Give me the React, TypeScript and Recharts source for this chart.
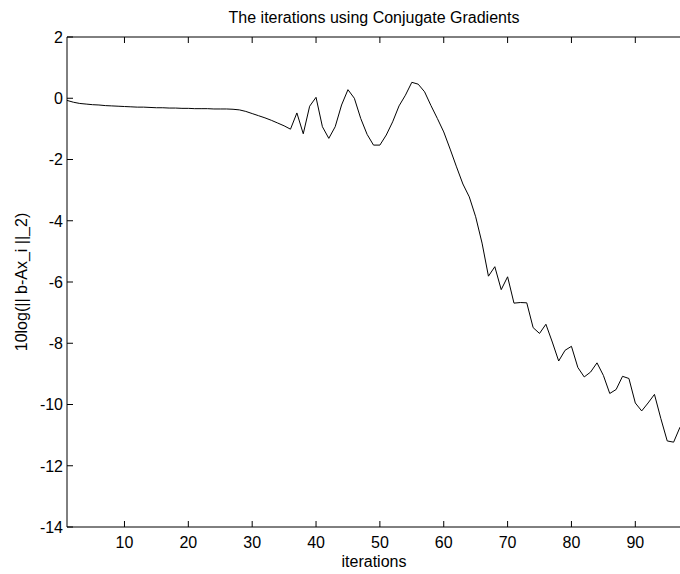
import React from "react";
import { Line, LineChart, XAxis, YAxis } from "recharts";

// iteration numbers 1..97
const iterations: number[] = Array.from({ length: 97 }, (_, i) => i + 1);

// 10log(|| b - Ax_i ||_2)
const residual: number[] = [
  -0.07, -0.13, -0.17, -0.19, -0.21, -0.22, -0.24, -0.25, -0.26, -0.27,
  -0.28, -0.29, -0.29, -0.3, -0.31, -0.31, -0.32, -0.32, -0.33, -0.33,
  -0.34, -0.34, -0.34, -0.35, -0.35, -0.35, -0.36, -0.38, -0.43, -0.5,
  -0.57, -0.64, -0.72, -0.81, -0.9, -1.01, -0.48, -1.16, -0.26, 0.03,
  -0.93, -1.31, -0.93, -0.22, 0.28, 0.0, -0.66, -1.18, -1.53, -1.53,
  -1.2, -0.77, -0.25, 0.1, 0.52, 0.46, 0.21, -0.24, -0.66, -1.1,
  -1.66, -2.24, -2.8, -3.22, -3.87, -4.73, -5.81, -5.5, -6.25, -5.83,
  -6.69, -6.67, -6.68, -7.49, -7.68, -7.38, -7.96, -8.58, -8.23, -8.1,
  -8.79, -9.1, -8.94, -8.64, -9.05, -9.64, -9.51, -9.08, -9.15, -9.95,
  -10.21, -9.95, -9.67, -10.46, -11.19, -11.23, -10.74,
];

const xTicks: number[] = [10, 20, 30, 40, 50, 60, 70, 80, 90];
const yTicks: number[] = [-14, -12, -10, -8, -6, -4, -2, 0, 2];

const title = "The iterations using Conjugate Gradients";
const xLabel = "iterations";
const yLabel = "10log(|| b-Ax_i ||_2)";

const data = iterations.map((it, i) => ({ it, value: residual[i] }));

const FONT = '"Liberation Sans", Arial, Helvetica, sans-serif';
const TICK_LEN = 6;
// plot box edges (matlab-style axes, ticks drawn inward)
const PLOT_LEFT = 67;
const PLOT_TOP = 37;
const PLOT_BOTTOM = 527;

function BottomTick(props: any) {
  const { x, payload } = props;
  return (
    <g>
      <line
        x1={x}
        x2={x}
        y1={PLOT_BOTTOM}
        y2={PLOT_BOTTOM - TICK_LEN}
        stroke="#000"
      />
      <text
        x={x}
        y={PLOT_BOTTOM + 21}
        textAnchor="middle"
        fontSize={16}
        fontFamily={FONT}
        fill="#000"
      >
        {payload.value}
      </text>
    </g>
  );
}

function TopTick(props: any) {
  const { x } = props;
  return (
    <line
      x1={x}
      x2={x}
      y1={PLOT_TOP}
      y2={PLOT_TOP + TICK_LEN}
      stroke="#000"
    />
  );
}

function LeftTick(props: any) {
  const { y, payload } = props;
  return (
    <g>
      <line
        x1={PLOT_LEFT}
        x2={PLOT_LEFT + TICK_LEN}
        y1={y}
        y2={y}
        stroke="#000"
      />
      <text
        x={PLOT_LEFT - 4}
        y={y}
        dy="0.36em"
        textAnchor="end"
        fontSize={16}
        fontFamily={FONT}
        fill="#000"
      >
        {payload.value}
      </text>
    </g>
  );
}

export default function App() {
  return (
    <div
      style={{
        position: "absolute",
        left: 0,
        top: 0,
        width: 680,
        height: 574,
        background: "#fff",
        overflow: "hidden",
      }}
    >
      <LineChart
        width={680}
        height={574}
        data={data}
        margin={{ top: 27, right: 0, bottom: 0, left: 0 }}
      >
        <XAxis
          xAxisId="bottom"
          dataKey="it"
          type="number"
          domain={[1, 97]}
          ticks={xTicks}
          height={47}
          tickLine={false}
          tick={<BottomTick />}
          axisLine={{ stroke: "#000" }}
          allowDataOverflow
        />
        <XAxis
          xAxisId="top"
          orientation="top"
          dataKey="it"
          type="number"
          domain={[1, 97]}
          ticks={xTicks}
          height={10}
          tickLine={false}
          tick={<TopTick />}
          axisLine={{ stroke: "#000" }}
          allowDataOverflow
        />
        <YAxis
          type="number"
          domain={[-14, 2]}
          ticks={yTicks}
          width={67}
          tickLine={false}
          tick={<LeftTick />}
          axisLine={{ stroke: "#000" }}
          interval={0}
          allowDataOverflow
        />
        <Line
          xAxisId="bottom"
          type="linear"
          dataKey="value"
          stroke="#000"
          strokeWidth={1}
          dot={false}
          activeDot={false}
          isAnimationActive={false}
        />
      </LineChart>
      <svg
        width={680}
        height={574}
        style={{ position: "absolute", left: 0, top: 0, pointerEvents: "none" }}
      >
        <text
          x={374}
          y={23}
          textAnchor="middle"
          fontSize={16}
          fontFamily={FONT}
          fill="#000"
        >
          {title}
        </text>
        <text
          x={374}
          y={567}
          textAnchor="middle"
          fontSize={16}
          fontFamily={FONT}
          fill="#000"
        >
          {xLabel}
        </text>
        <text
          transform="translate(27 282) rotate(-90)"
          textAnchor="middle"
          fontSize={16}
          fontFamily={FONT}
          fill="#000"
        >
          {yLabel}
        </text>
      </svg>
    </div>
  );
}
